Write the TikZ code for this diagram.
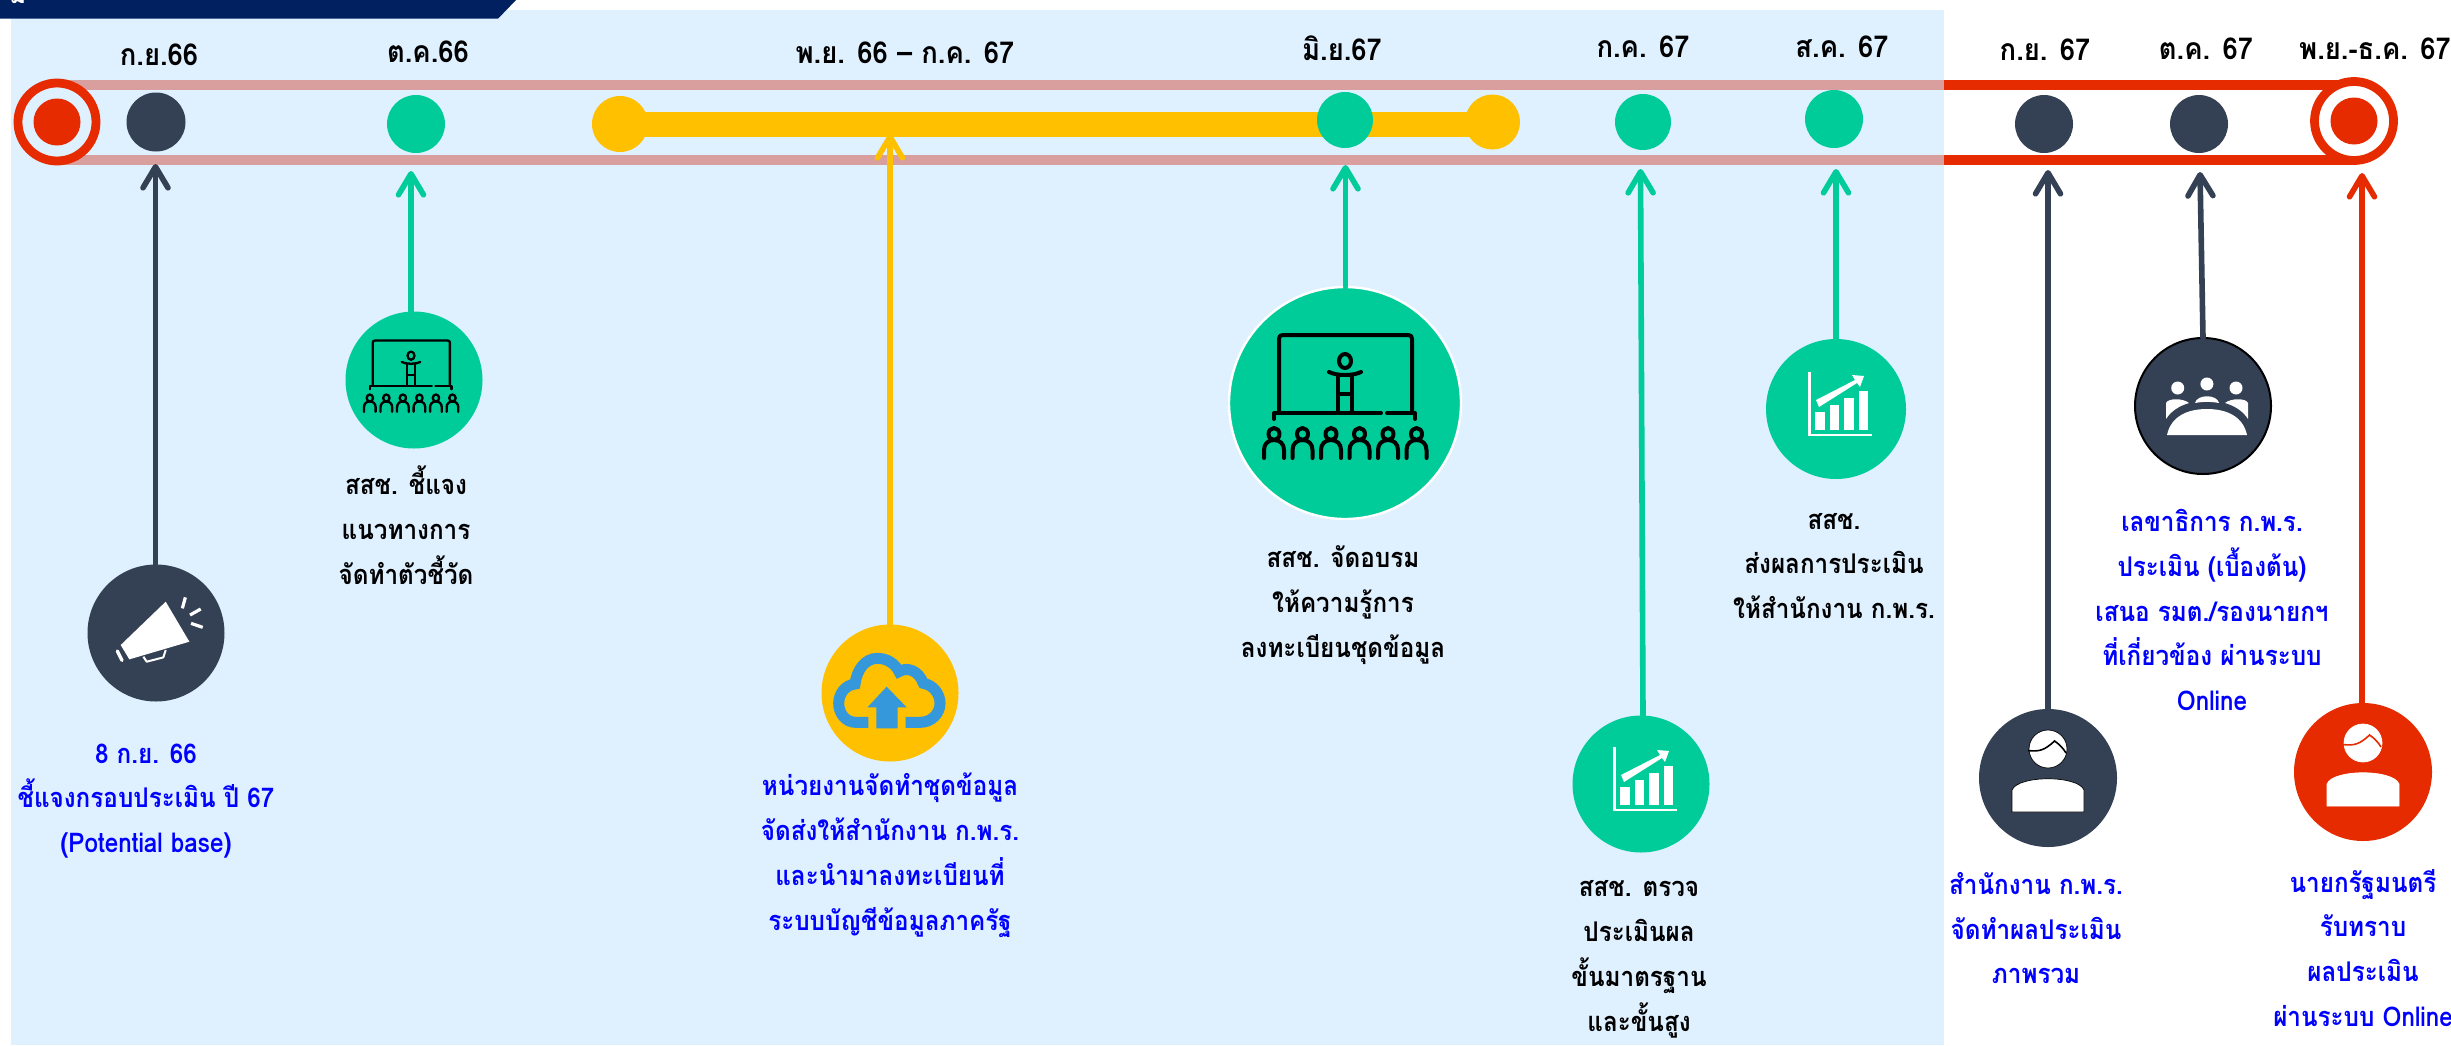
\documentclass[tikz,border=0pt]{standalone}
\usepackage{fontspec}
\usetikzlibrary{arrows.meta,calc}
\newfontfamily\thai[Script=Thai]{Loma}
\definecolor{navyc}{HTML}{344054}
\definecolor{greenc}{HTML}{00CC99}
\definecolor{yellowc}{HTML}{FFC000}
\definecolor{redc}{HTML}{E62B00}
\definecolor{pinkc}{HTML}{D99E9E}
\definecolor{bgc}{HTML}{DFF0FF}
\definecolor{bannerc}{HTML}{00205F}
\definecolor{cloudc}{HTML}{3598DB}
\definecolor{bluec}{HTML}{0000FF}
\newcommand{\teachicon}[3]{%
\begin{scope}[shift={(#1,#2)},scale=#3,x=0.5mm,y=-0.5mm,line width=#3*2mm,black,line cap=round,line join=round]
\draw (-66,10) -- (-66,-64) .. controls (-66,-67) and (-65,-68) .. (-62,-68) -- (63,-68) .. controls (66,-68) and (67,-67) .. (67,-64) -- (67,10);
\draw (-71,16) -- (-71,10) -- (36,10);
\draw (42,10) -- (70,10) -- (70,16);
\draw (0,-42) ellipse [x radius=6,y radius=7];
\draw (-16,-31) .. controls (-8,-27) and (8,-27) .. (16,-31);
\draw (-7,10) -- (-7,-28);
\draw (7,10) -- (7,-28);
\draw (-7,-9) -- (7,-9);
\foreach \q in {-71,-42.5,-14,14.5,43,71.5}{
\draw (\q,31) ellipse [x radius=5.5,y radius=6];
\draw (\q-10,55) -- (\q-10,47) .. controls (\q-10,41) and (\q-6,37) .. (\q,37) .. controls (\q+6,37) and (\q+10,41) .. (\q+10,47) -- (\q+10,55);
}
\end{scope}}
\newcommand{\charticon}[2]{%
\begin{scope}[shift={(#1,#2)},x=0.5mm,y=-0.5mm,white]
\fill (-28,-37) rectangle (-25.5,27);
\fill (-28,24.5) rectangle (36,27);
\fill (-20.7,3) rectangle (-11.3,20.7);
\fill (-6,-4) rectangle (3.3,20.7);
\fill (8.3,-11) rectangle (17.7,20.7);
\fill (22.7,-18) rectangle (32,20.7);
\fill (-20,-9) -- (19,-29) -- (16,-34) -- (28,-33) -- (24,-22) -- (21,-26) -- (-17,-2) -- cycle;
\end{scope}}
\newcommand{\personicon}[4]{%
\begin{scope}[shift={(#1,#2)},x=0.5mm,y=-0.5mm]
\filldraw[fill=white,draw=#3,line width=0.35mm] (-36,34) -- (-36,12) .. controls (-30,-3) and (30,-3) .. (36,12) -- (36,34) -- cycle;
\filldraw[fill=white,draw=#3,line width=0.35mm] (0,-29) circle [radius=19];
\draw[#4,line width=0.8mm] (-20,-27.5) .. controls (-9,-26) and (-3,-28) .. (6.5,-37) .. controls (11,-34) and (15,-30) .. (18,-25);
\end{scope}}
\tikzset{
 x=0.5mm,y=-0.5mm,
 dot/.style={circle,inner sep=0pt,outer sep=0pt},
 band/.style={line width=5mm},
 arr/.style={line width=2.8mm,line cap=round,-{Straight Barb[length=10.5mm,width=12.5mm,round]}},
 datel/.style={font=\thai\bfseries\fontsize{39}{50}\selectfont,text=black,inner sep=0pt,anchor=center,transform shape,yscale=1.1},
 lab/.style={font=\thai\bfseries\fontsize{34.5}{57}\selectfont,align=center,inner sep=0pt,anchor=center,transform shape,yscale=1.12},
 blab/.style={lab,text=bluec},
 klab/.style={lab,text=black},
}
\begin{document}
\begin{tikzpicture}
\useasboundingbox (0,0) rectangle (2451,1045);
\begin{scope}
\clip (0,0) rectangle (2451,1045);
\fill[bgc] (11,10) rectangle (1944,1045);
\fill[bannerc] (0,0) -- (516,0) -- (498,18.7) -- (0,18.7) -- cycle;
\node[font=\thai\bfseries\fontsize{36}{40}\selectfont,text=white,inner sep=0pt,anchor=base] (bt) at (18,3) {ม};
% rails
\coordinate (pa) at (65,85); \coordinate (pb) at (1944,85); \coordinate (pc) at (2360,85);
\coordinate (qa) at (65,160); \coordinate (qb) at (1944,160); \coordinate (qc) at (2357,160);
\draw[band,pinkc] (pa) -- (pb);
\draw[band,pinkc] (qa) -- (qb);
\draw[band,redc] (pb) -- (pc);
\draw[band,redc] (qb) -- (qc);
% yellow bar
\node[dot,fill=yellowc,minimum size=28mm] (y1) at (620,124) {};
\node[dot,fill=yellowc,minimum size=27.5mm] (y2) at (1492.5,122) {};
\draw[line width=12.5mm,yellowc] (y1.center) -- (y2.center |- y1.center);
% rings and dots
\node[dot,draw=redc,fill=bgc,line width=4.4mm,minimum size=39mm] (r1) at (57,122) {};
\node[dot,fill=redc,minimum size=23.5mm] (r1i) at (57,122) {};
\node[dot,draw=redc,fill=white,line width=4.4mm,minimum size=39.5mm] (r2) at (2354,121) {};
\node[dot,fill=redc,minimum size=23.5mm] (r2i) at (2354,121) {};
\node[dot,fill=navyc,minimum size=29.5mm] (d1) at (156,122) {};
\node[dot,fill=greenc,minimum size=29mm] (d2) at (416,124) {};
\node[dot,fill=greenc,minimum size=28mm] (d3) at (1345,120) {};
\node[dot,fill=greenc,minimum size=28mm] (d4) at (1643,122) {};
\node[dot,fill=greenc,minimum size=29mm] (d5) at (1834,119) {};
\node[dot,fill=navyc,minimum size=29mm] (d6) at (2044,124) {};
\node[dot,fill=navyc,minimum size=29mm] (d7) at (2199,124) {};
% date labels
\node[datel] (t1) at (159,55) {ก.ย.66};
\node[datel] (t2) at (428,52) {ต.ค.66};
\node[datel] (t3) at (905,53) {พ.ย. 66 – ก.ค. 67};
\node[datel] (t4) at (1342,48) {มิ.ย.67};
\node[datel] (t5) at (1643,47) {ก.ค. 67};
\node[datel] (t6) at (1842,47) {ส.ค. 67};
\node[datel] (t7) at (2045,50) {ก.ย. 67};
\node[datel] (t8) at (2206,49) {ต.ค. 67};
\node[datel] (t9) at (2375,49) {พ.ย.-ธ.ค. 67};
% icon discs
\node[dot,fill=navyc,minimum size=68.5mm] (i1) at (156,633) {};
\node[dot,fill=greenc,minimum size=68.5mm] (i2) at (414,380) {};
\node[dot,fill=yellowc,minimum size=68.5mm] (i3) at (890,693) {};
\node[dot,fill=greenc,draw=white,line width=1.2mm,minimum size=116mm] (i4) at (1345,403) {};
\node[dot,fill=greenc,minimum size=68.5mm] (i5) at (1641,784) {};
\node[dot,fill=greenc,minimum size=70mm] (i6) at (1836,409) {};
\node[dot,fill=navyc,minimum size=69mm] (i7) at (2048,778) {};
\node[dot,fill=navyc,draw=black,line width=1mm,minimum size=68mm] (i8) at (2203,406) {};
\node[dot,fill=redc,minimum size=69mm] (i9) at (2363,772) {};
% arrow tips
\coordinate (a1) at (155.5,164);
\coordinate (a2) at (411,171);
\coordinate (a3) at (890,134);
\coordinate (a4) at (1345.5,165);
\coordinate (a5) at (1640.5,169);
\coordinate (a6) at (1836,169);
\coordinate (a7) at (2048,170);
\coordinate (a8) at (2200,172);
\coordinate (a9) at (2362,173);
\draw[arr,navyc] (i1.north -| a1) -- (a1);
\draw[arr,greenc] (i2.north -| a2) -- (a2);
\draw[arr,yellowc] (i3.north -| a3) -- (a3);
\draw[arr,greenc] (i4.north -| a4) -- (a4);
\draw[arr,greenc] ($(i5.north)+(2,0)$) -- (a5);
\draw[arr,greenc] (i6.north -| a6) -- (a6);
\draw[arr,navyc] (i7.north -| a7) -- (a7);
\draw[arr,navyc] (i8.north) -- (a8);
\draw[arr,redc] (i9.north -| a9) -- (a9);
% megaphone
\begin{scope}[shift={(0,540)},x=0.1667mm,y=-0.1667mm,white]
\fill (497,185) -- (568,305) -- (388,358) -- (362,315) -- cycle;
\draw[line width=1.7mm,line cap=round] (352,333) -- (366,361);
\draw[line width=1mm,line join=round] (430,350) -- (440,365) -- (490,352) -- (497,330);
\draw[line width=1.6mm] (556,172) -- (547,205);
\draw[line width=1.6mm] (602,207) -- (570,225);
\draw[line width=1.6mm] (573,250) -- (608,262);
\end{scope}
% teaching icons
\teachicon{1345}{403}{1}
\teachicon{411}{380}{0.58}
% cloud
\begin{scope}[shift={(750,620)},x=0.1667mm,y=-0.1667mm]
\draw[cloudc,line width=5.5mm] (355,307) -- (318,307) .. controls (285,307) and (266,278) .. (266,250) .. controls (266,222) and (285,195) .. (315,192) .. controls (320,150) and (345,115) .. (382,115) .. controls (410,115) and (435,130) .. (447,155) .. controls (470,140) and (505,150) .. (520,190) .. controls (550,195) and (570,222) .. (570,250) .. controls (570,280) and (545,307) .. (510,307) -- (467,307);
\fill[cloudc] (410,200) -- (470,262) -- (443,262) -- (443,325) -- (379,325) -- (379,262) -- (352,262) -- cycle;
\end{scope}
% charts
\charticon{1641}{784}
\charticon{1836}{409}
% persons
\personicon{2048}{778}{black}{black}
\personicon{2363}{772}{white}{redc}
% meeting icon
\begin{scope}[shift={(2203,406)},white]
\fill (-25.3,-18) circle [radius=6.5];
\fill (3.9,-22) circle [radius=6.5];
\fill (33,-18) circle [radius=6.5];
\fill (-36,29) .. controls (-32,10) and (-15,3) .. (3.9,3) .. controls (23,3) and (40,10) .. (44,29) -- cycle;
\fill (-37,13) -- (-37,-3) .. controls (-35,-8) and (-20,-8) .. (-14,-3) .. controls (-24,0) and (-32,5) .. (-37,13) -- cycle;
\fill (45,13) -- (45,-3) .. controls (43,-8) and (28,-8) .. (22,-3) .. controls (32,0) and (40,5) .. (45,13) -- cycle;
\fill (-8,-3) .. controls (-6,-12) and (14,-12) .. (16,-3) .. controls (8,-4.5) and (0,-4.5) .. (-8,-3) -- cycle;
\end{scope}
% labels
\node[blab] (l1) at (146,801) {8 ก.ย. 66\\ชี้แจงกรอบประเมิน ปี 67\\(Potential base)};
\node[klab] (l2) at (406,525) {สสช. ชี้แจง\\แนวทางการ\\จัดทำตัวชี้วัด};
\node[blab] (l3) at (890,855) {หน่วยงานจัดทำชุดข้อมูล\\จัดส่งให้สำนักงาน ก.พ.ร.\\และนำมาลงทะเบียนที่\\ระบบบัญชีข้อมูลภาครัฐ};
\node[klab] (l4) at (1343,605) {สสช. จัดอบรม\\ให้ความรู้การ\\ลงทะเบียนชุดข้อมูล};
\node[klab] (l5) at (1639,959) {สสช. ตรวจ\\ประเมินผล\\ขั้นมาตรฐาน\\และขั้นสูง};
\node[klab] (l6) at (1834,566) {สสช.\\ส่งผลการประเมิน\\ให้สำนักงาน ก.พ.ร.};
\node[blab] (l7) at (2212,610) {เลขาธิการ ก.พ.ร.\\ประเมิน (เบื้องต้น)\\เสนอ รมต./รองนายกฯ\\ที่เกี่ยวข้อง ผ่านระบบ\\Online};
\node[blab] (l8) at (2036,928) {สำนักงาน ก.พ.ร.\\จัดทำผลประเมิน\\ภาพรวม};
\node[blab] (l9) at (2363,948) {นายกรัฐมนตรี\\รับทราบ\\ผลประเมิน\\ผ่านระบบ Online};
\end{scope}
\end{tikzpicture}
\end{document}
